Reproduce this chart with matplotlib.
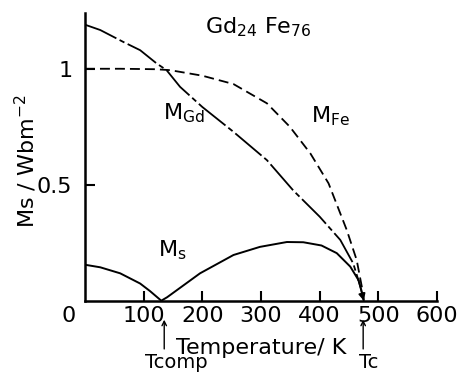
import matplotlib
matplotlib.use('Agg')
import matplotlib.pyplot as plt

# curves (temperature in K, magnetisation in Wb m^-2)
t_gd = [0, 26, 65, 94, 122, 139, 162, 200, 253, 310, 355, 400, 435, 457, 471, 475]
m_gd = [1.19, 1.167, 1.116, 1.08, 1.023, 0.994, 0.922, 0.835, 0.728, 0.606, 0.475,
        0.362, 0.262, 0.161, 0.046, 0.0]

t_fe = [0, 60, 120, 145, 200, 253, 310, 349, 384, 415, 446, 463, 474, 475]
m_fe = [1.0, 1.0, 0.998, 0.994, 0.97, 0.934, 0.851, 0.75, 0.635, 0.506, 0.305,
        0.175, 0.03, 0.0]

t_ms = [0, 26, 60, 94, 111, 130, 140, 196, 253, 298, 344, 372, 403, 429, 452, 466, 475]
m_ms = [0.155, 0.144, 0.118, 0.074, 0.041, 0.0, 0.015, 0.118, 0.197, 0.232, 0.253,
        0.252, 0.238, 0.205, 0.147, 0.089, 0.0]

x_ticks = [100, 200, 300, 400, 500, 600]
y_ticks = [0.5, 1.0]
y_tick_labels = ['0.5', '1']
t_comp = 135
t_curie = 474

fig = plt.figure(figsize=(4.67, 3.74), dpi=100)
ax = fig.add_axes([0.182, 0.196, 0.754, 0.769])

ax.plot(t_gd, m_gd, color='black', lw=1.3, dashes=(19, 2, 3, 2))
ax.plot(t_fe, m_fe, color='black', lw=1.3, dashes=(5.5, 2.8))
ax.plot(t_ms[:-1], m_ms[:-1], color='black', lw=1.4)
ax.annotate('', xy=(t_ms[-1], m_ms[-1]), xytext=(t_ms[-2], m_ms[-2]),
            arrowprops=dict(arrowstyle='-|>', color='black', lw=1.2,
                            mutation_scale=10, shrinkA=0, shrinkB=0))

ax.set_xlim(0, 600)
ax.set_ylim(0, 1.24)
ax.spines['top'].set_visible(False)
ax.spines['right'].set_visible(False)
ax.spines['left'].set_linewidth(1.8)
ax.spines['bottom'].set_linewidth(1.8)

ax.set_xticks(x_ticks)
ax.set_xticklabels([str(v) for v in x_ticks])
ax.set_yticks(y_ticks)
ax.set_yticklabels(y_tick_labels)
ax.tick_params(direction='in', length=7, width=1.5, labelsize=16)
ax.tick_params(axis='y', pad=9)
ax.text(-28, -0.025, '0', fontsize=16, ha='center', va='top')

ax.text(0.5, -0.13, 'Temperature/ K', transform=ax.transAxes, fontsize=16,
        ha='center', va='top')
fig.text(0.056, 0.57, r'Ms / Wbm$^{-2}$', rotation=90, fontsize=16,
         ha='center', va='center')

ax.text(205, 1.18, r'Gd$_{24}$ Fe$_{76}$', fontsize=16, ha='left', va='center')
ax.text(133, 0.78, r'M$_{\mathrm{Gd}}$', fontsize=16, ha='left', va='baseline')
ax.text(385, 0.77, r'M$_{\mathrm{Fe}}$', fontsize=16, ha='left', va='baseline')
ax.text(125, 0.19, r'M$_{\mathrm{s}}$', fontsize=16, ha='left', va='baseline')

for t, label, dx in [(t_comp, 'Tcomp', 20), (t_curie, 'Tc', 10)]:
    ax.annotate('', xy=(t, -0.07), xytext=(t, -0.22), annotation_clip=False,
                arrowprops=dict(arrowstyle='->', color='black', lw=1.0, mutation_scale=8))
    ax.text(t + dx, -0.225, label, fontsize=14, ha='center', va='top', clip_on=False)

fig.savefig('out.png', dpi=100)
